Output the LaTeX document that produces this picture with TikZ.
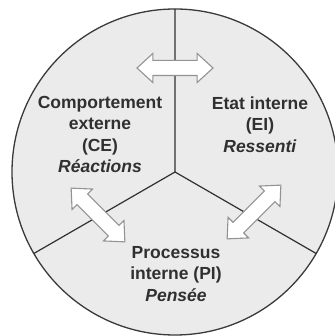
\documentclass[tikz,border=0pt]{standalone}
\usepackage{fontspec}
\setsansfont{Liberation Sans}
\usetikzlibrary{shapes.arrows,calc}
\definecolor{disc}{HTML}{EBEBEB}
\definecolor{ink}{HTML}{303030}
\begin{document}
\begin{tikzpicture}[x=1pt,y=1pt,
  label/.style={align=center,text=ink,font=\sffamily\bfseries\fontsize{17.5}{21.5}\selectfont},
  swap/.style={double arrow,draw=gray!85,fill=white,line width=1.1pt,minimum height=76pt,
    inner xsep=0pt,inner ysep=7pt,double arrow head extend=7pt,double arrow tip angle=85}]
\useasboundingbox (0,0) rectangle (334,336);
\coordinate (o) at (175,164);
\fill[disc] (o) circle (163);
\draw[ink!95,line width=1.3pt] (o) circle (163);
\coordinate (top) at ($(o)+(90:163)$);
\coordinate (left) at ($(o)+(210:163)$);
\coordinate (right) at ($(o)+(330:163)$);
\draw[ink,line width=1.2pt] (o) -- (top) (o) -- (left) (o) -- (right);
\node[swap] (ceei) at (175,268) {};
\node[swap,rotate=-45] (cepi) at (98,121) {};
\node[swap,rotate=45] (eipi) at (254,124) {};
\node[label] (ce) at (100,201.5) {Comportement\\externe\\(CE)\\\textit{Réactions}};
\node[label] (ei) at (260,211.5) {Etat interne\\(EI)\\\textit{Ressenti}};
\node[label] (pi) at (176,62) {Processus\\interne (PI)\\\textit{Pensée}};
\end{tikzpicture}
\end{document}
